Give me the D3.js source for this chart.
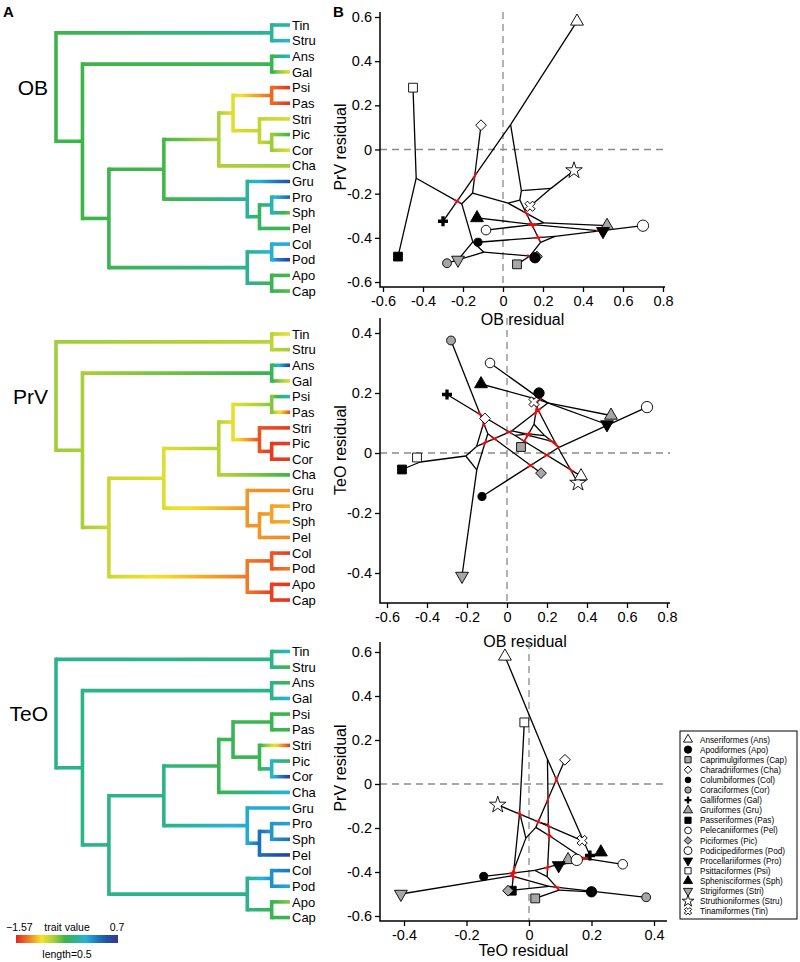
<!DOCTYPE html>
<html>
<head>
<meta charset="utf-8">
<script src="https://cdnjs.cloudflare.com/ajax/libs/d3/7.8.5/d3.min.js"></script>
<style>
body { margin: 0; background: #fff; }
svg { font-family: "Liberation Sans", Arial, sans-serif; }
</style>
</head>
<body>
<script>
//tree: tips in plotting order, top to bottom
var tips = ["Tin","Stru","Ans","Gal","Psi","Pas","Stri","Pic","Cor","Cha","Gru","Pro","Sph","Pel","Col","Pod","Apo","Cap"];
var tipParent = ["TS","TS","AG","AG","PP","PP","SPC","PC","PC","D","G","PS","PS","PSP","CP","CP","AC","AC"];
var nodes = ["root","A","B","C","D","E","TS","AG","PP","SPC","PC","G","PSP","PS","CPAC","CP","AC"];
var nodeParent = [null,"root","A","B","C","D","root","A","E","E","SPC","C","G","PSP","B","CPAC","CPAC"];
var nodeTime = [0,0.13,0.26,0.53,0.80,0.87,1.06,1.06,1.06,1.0,1.06,0.94,1.0,1.06,0.94,1.06,1.06];
var tipTime = 1.15;

//residuals at tips (tree order)
var obRes  = [0.135,0.355,0.37,-0.30,-0.45,-0.525,-0.225,0.17,-0.28,-0.11,0.52,0.50,-0.13,-0.085,-0.125,0.70,0.16,0.07];
var prvRes = [-0.257,-0.095,0.58,-0.325,0.28,-0.485,-0.50,-0.485,-0.515,0.11,-0.345,-0.37,-0.31,-0.365,-0.42,-0.345,-0.49,-0.52];
var teoRes = [0.17,-0.10,-0.077,0.195,-0.015,-0.055,-0.41,-0.067,0.375,0.115,0.125,0.095,0.23,0.30,-0.145,0.153,0.20,0.02];

//residuals at internal nodes (nodes order)
var obNode  = [0.108,0.092,0.084,0.025,-0.152,-0.206,0.24,0.038,-0.434,-0.151,-0.096,0.204,0.14,0.166,0.188,0.26,0.135];
var prvNode = [-0.185,-0.186,-0.229,-0.243,-0.197,-0.246,-0.176,0.113,-0.130,-0.418,-0.465,-0.332,-0.341,-0.341,-0.421,-0.393,-0.482];
var teoNode = [0.059,0.062,0.065,0.074,0.022,-0.010,0.036,0.059,-0.030,-0.056,0.064,0.167,0.193,0.176,0.058,0.019,0.096];

//trait values for the coloured trees
var obTip  = [-0.16,-0.03,-0.03,-0.95,-1.52,-1.52,-0.90,-0.48,-0.95,-0.70,0.47,0.36,-0.60,-0.48,0.02,0.59,-0.50,-0.55];
var obIn   = [-0.48,-0.48,-0.46,-0.50,-0.75,-0.93,-0.20,-0.45,-1.35,-0.82,-0.70,-0.21,-0.40,-0.15,-0.25,0.0,-0.45];
var prvTip = [-0.96,-0.71,0.59,-0.93,-0.03,-1.45,-1.50,-1.50,-1.50,-0.48,-1.25,-1.15,-1.15,-1.25,-1.50,-1.30,-1.52,-1.52];
var prvIn  = [-0.71,-0.73,-0.85,-0.92,-0.78,-0.95,-0.80,-0.45,-0.65,-1.42,-1.50,-1.22,-1.22,-1.18,-1.30,-1.40,-1.48];
var teoTip = [-0.03,-0.48,-0.48,-0.03,-0.48,-0.48,-1.50,-0.44,0.59,-0.03,0.02,0.05,0.29,0.59,0.25,0.02,-0.66,-0.48];
var teoIn  = [-0.25,-0.26,-0.27,-0.27,-0.44,-0.44,-0.28,-0.25,-0.46,-0.44,-0.10,0.02,0.29,0.10,-0.25,0.13,-0.44];

//legend
var legendCodes = ["Ans","Apo","Cap","Cha","Col","Cor","Gal","Gru","Pas","Pel","Pic","Pod","Pro","Psi","Sph","Stri","Stru","Tin"];
var legendNames = ["Anseriformes","Apodiformes","Caprimulgiformes","Charadriiformes","Columbiformes","Coraciformes","Galliformes","Gruiformes","Passeriformes","Pelecaniiformes","Piciformes","Podicipediformes","Procellariiformes","Psittaciformes","Sphenisciformes","Strigiformes","Struthioniformes","Tinamiformes"];

//ticks
var ticks06 = [-0.6,-0.4,-0.2,0,0.2,0.4,0.6];
var ticks08 = [-0.6,-0.4,-0.2,0,0.2,0.4,0.6,0.8];
var ticks04 = [-0.4,-0.2,0,0.2,0.4];

var traitMin = -1.57, traitMax = 0.7;
var palStops = [0,0.12,0.25,0.37,0.48,0.58,0.68,0.8,0.9,1];
var palCols = ["#e3241f","#ef7a26","#f5e32b","#a8cf3a","#3db54a","#2cb38c","#27b4d9","#1d77bf","#234ea6","#3a3790"];

//symbol styles
var symStyle = {
    Ans: ["tri","white",72], Apo: ["circle","black",85], Cap: ["square","#a6a6a6",78],
    Cha: ["diamond","white",58], Col: ["circle","black",52], Cor: ["circle","#a6a6a6",62],
    Gal: ["plus","black",55], Gru: ["tri","#a6a6a6",72], Pas: ["square","black",78],
    Pel: ["circle","white",72], Pic: ["diamond","#a6a6a6",58], Pod: ["circle","white",100],
    Pro: ["triDown","black",72], Psi: ["square","white",78], Sph: ["tri","black",72],
    Stri: ["triDown","#a6a6a6",72], Stru: ["star","white",85], Tin: ["xcross","white",65]
};

var svg = d3.select("body").append("svg").attr("width", 800).attr("height", 962);
var defs = svg.append("defs");

var pal = d3.scaleLinear()
    .domain(palStops.map(function(t) { return traitMin + t * (traitMax - traitMin); }))
    .range(palCols).clamp(true);

var tx = d3.scaleLinear().domain([0, tipTime]).range([56, 290]);
var gradId = 0;

function buildTree() {
    var parentOf = {}, kids = {};
    tips.forEach(function(t, i) { parentOf[t] = tipParent[i]; });
    nodes.forEach(function(n, i) { if (nodeParent[i]) parentOf[n] = nodeParent[i]; });
    Object.keys(parentOf).forEach(function(c) {
        (kids[parentOf[c]] = kids[parentOf[c]] || []).push(c);
    });
    return {parentOf: parentOf, kids: kids};
}
var T = buildTree();

function drawTree(top, tipVals, nodeVals, label) {
    var g = svg.append("g");
    var pos = {}, val = {};
    tips.forEach(function(t, i) { pos[t] = {x: tx(tipTime), y: top + i * 15.65}; val[t] = tipVals[i]; });
    nodes.forEach(function(n, i) { val[n] = nodeVals[i]; });
    function place(n) {
        if (pos[n]) return pos[n];
        var ys = T.kids[n].map(function(c) { return place(c).y; });
        pos[n] = {x: tx(nodeTime[nodes.indexOf(n)]), y: (d3.min(ys) + d3.max(ys)) / 2};
        return pos[n];
    }
    place("root");

    //horizontal branches with colour gradient parent -> child
    Object.keys(T.parentOf).forEach(function(c) {
        var p = T.parentOf[c];
        var id = "br" + (gradId++);
        var lg = defs.append("linearGradient").attr("id", id)
            .attr("gradientUnits", "userSpaceOnUse")
            .attr("x1", pos[p].x).attr("x2", pos[c].x).attr("y1", 0).attr("y2", 0);
        for (var k = 0; k <= 10; k++) {
            lg.append("stop").attr("offset", k / 10)
                .attr("stop-color", pal(val[p] + (val[c] - val[p]) * k / 10));
        }
        g.append("line")
            .attr("x1", pos[p].x).attr("x2", pos[c].x)
            .attr("y1", pos[c].y).attr("y2", pos[c].y)
            .attr("stroke", "url(#" + id + ")").attr("stroke-width", 3.6);
    });

    //vertical connectors in node colour
    nodes.forEach(function(n) {
        var ys = T.kids[n].map(function(c) { return pos[c].y; });
        g.append("line")
            .attr("x1", pos[n].x).attr("x2", pos[n].x)
            .attr("y1", d3.min(ys) - 1.8).attr("y2", d3.max(ys) + 1.8)
            .attr("stroke", pal(val[n])).attr("stroke-width", 3.6);
    });

    tips.forEach(function(t) {
        g.append("text").attr("x", pos[t].x + 2).attr("y", pos[t].y + 4.6)
            .attr("font-size", 13).text(t);
    });

    g.append("text").attr("x", 48).attr("y", pos.root.y + 7.5)
        .attr("text-anchor", "end").attr("font-size", 21).text(label);
}

drawTree(25, obTip, obIn, "OB");
drawTree(334, prvTip, prvIn, "PrV");
drawTree(651.5, teoTip, teoIn, "TeO");

//colour bar
var cb = defs.append("linearGradient").attr("id", "cbar");
palStops.forEach(function(s, i) { cb.append("stop").attr("offset", s).attr("stop-color", palCols[i]); });
svg.append("rect").attr("x", 16).attr("y", 935).attr("width", 102).attr("height", 8).attr("fill", "url(#cbar)");
svg.append("text").attr("x", 6).attr("y", 931).attr("font-size", 10.5).text("\u22121.57");
svg.append("text").attr("x", 67).attr("y", 931).attr("font-size", 10.5).attr("text-anchor", "middle").text("trait value");
svg.append("text").attr("x", 117).attr("y", 931).attr("font-size", 10.5).attr("text-anchor", "middle").text("0.7");
svg.append("text").attr("x", 67).attr("y", 958).attr("font-size", 10.5).attr("text-anchor", "middle").text("length=0.5");

svg.append("text").attr("x", 3).attr("y", 17).attr("font-size", 15).attr("font-weight", "bold").text("A");
svg.append("text").attr("x", 333).attr("y", 17).attr("font-size", 15).attr("font-weight", "bold").text("B");

//symbols
function symPath(code, scale) {
    var s = symStyle[code], type = d3.symbolCircle;
    if (s[0] === "tri" || s[0] === "triDown") type = d3.symbolTriangle;
    if (s[0] === "square" || s[0] === "diamond") type = d3.symbolSquare;
    if (s[0] === "plus" || s[0] === "xcross") type = d3.symbolCross;
    if (s[0] === "star") type = d3.symbolStar;
    return d3.symbol().type(type).size(s[2] * scale)();
}
function symRot(code) {
    var s = symStyle[code][0];
    if (s === "triDown") return 180;
    if (s === "diamond" || s === "xcross") return 45;
    return 0;
}
function drawSymbol(g, code, x, y, scale) {
    var s = symStyle[code];
    g.append("path").attr("d", symPath(code, scale))
        .attr("transform", "translate(" + x + "," + y + ") rotate(" + symRot(code) + ")")
        .attr("fill", s[1])
        .attr("stroke", s[0] === "plus" ? "none" : "black")
        .attr("stroke-width", 0.9);
}

function fmt(d) { return d === 0 ? "0" : d.toFixed(1); }

function segCross(a, b, c, d) {
    var rx = b[0] - a[0], ry = b[1] - a[1], sx = d[0] - c[0], sy = d[1] - c[1];
    var den = rx * sy - ry * sx;
    if (Math.abs(den) < 1e-9) return null;
    var t = ((c[0] - a[0]) * sy - (c[1] - a[1]) * sx) / den;
    var u = ((c[0] - a[0]) * ry - (c[1] - a[1]) * rx) / den;
    if (t > 0.02 && t < 0.98 && u > 0.02 && u < 0.98) return [t, u];
    return null;
}

function drawScatter(p) {
    var g = svg.append("g");
    var x = d3.scaleLinear().domain(p.xDomain).range(p.xRange);
    var y = d3.scaleLinear().domain(p.yDomain).range(p.yRange);
    var f = p.frame;

    //zero lines
    g.append("line").attr("x1", f.l).attr("x2", f.r).attr("y1", y(0)).attr("y2", y(0))
        .attr("stroke", "#8a8a8a").attr("stroke-width", 1.3).attr("stroke-dasharray", "7,5");
    g.append("line").attr("x1", x(0)).attr("x2", x(0)).attr("y1", f.t).attr("y2", f.b)
        .attr("stroke", "#8a8a8a").attr("stroke-width", 1.3).attr("stroke-dasharray", "7,5");

    //axes
    var ya = g.append("g").attr("transform", "translate(" + f.l + ",0)")
        .call(d3.axisLeft(y).tickValues(p.yTicks).tickSize(5).tickPadding(3).tickFormat(fmt));
    var xa = g.append("g").attr("transform", "translate(0," + f.b + ")")
        .call(d3.axisBottom(x).tickValues(p.xTicks).tickSize(5).tickPadding(4).tickFormat(fmt));
    [ya, xa].forEach(function(a) {
        a.select(".domain").remove();
        a.attr("font-family", null).attr("font-size", 14.5);
        a.selectAll("line").attr("stroke-width", 1.3);
        a.selectAll("text").attr("fill", "black");
    });
    g.append("path").attr("d", "M" + f.l + "," + f.t + "V" + f.b + "H" + f.r)
        .attr("fill", "none").attr("stroke", "black").attr("stroke-width", 1.5);

    g.append("text").attr("x", (f.l + f.r) / 2).attr("y", p.xTitleY)
        .attr("text-anchor", "middle").attr("font-size", 16).text(p.xTitle);
    g.append("text").attr("transform", "translate(346," + p.yTitleY + ") rotate(-90)")
        .attr("text-anchor", "middle").attr("font-size", 16).text(p.yTitle);

    //tree edges in trait space
    var pt = {};
    tips.forEach(function(t, i) { pt[t] = [x(p.xs[i]), y(p.ys[i])]; });
    nodes.forEach(function(n, i) { pt[n] = [x(p.xn[i]), y(p.yn[i])]; });
    var edges = Object.keys(T.parentOf).map(function(c) { return [pt[T.parentOf[c]], pt[c]]; });
    edges.forEach(function(e) {
        g.append("line").attr("x1", e[0][0]).attr("y1", e[0][1]).attr("x2", e[1][0]).attr("y2", e[1][1])
            .attr("stroke", "black").attr("stroke-width", 1.3);
    });

    //red marks where branches cross
    function mark(e, t) {
        var dx = e[1][0] - e[0][0], dy = e[1][1] - e[0][1], L = Math.sqrt(dx * dx + dy * dy);
        var cx = e[0][0] + t * dx, cy = e[0][1] + t * dy, h = 3.5 / L;
        g.append("line").attr("x1", cx - dx * h).attr("y1", cy - dy * h)
            .attr("x2", cx + dx * h).attr("y2", cy + dy * h)
            .attr("stroke", "#e01010").attr("stroke-width", 1.6);
    }
    for (var i = 0; i < edges.length; i++) {
        for (var j = i + 1; j < edges.length; j++) {
            var r = segCross(edges[i][0], edges[i][1], edges[j][0], edges[j][1]);
            if (r) { mark(edges[i], r[0]); mark(edges[j], r[1]); }
        }
    }

    tips.forEach(function(t) { drawSymbol(g, t, pt[t][0], pt[t][1], 1); });
}

drawScatter({xs: obRes, ys: prvRes, xn: obNode, yn: prvNode,
    xDomain: [-0.6, 0.8], xRange: [383, 663], yDomain: [-0.6, 0.6], yRange: [282, 17],
    frame: {l: 380, r: 665, t: 12, b: 287}, xTicks: ticks08, yTicks: ticks06,
    xTitle: "OB residual", yTitle: "PrV residual", xTitleY: 325, yTitleY: 147});

drawScatter({xs: obRes, ys: teoRes, xn: obNode, yn: teoNode,
    xDomain: [-0.6, 0.8], xRange: [387, 667], yDomain: [-0.4, 0.4], yRange: [573, 333],
    frame: {l: 380, r: 670, t: 318, b: 603}, xTicks: ticks08, yTicks: ticks04,
    xTitle: "OB residual", yTitle: "TeO residual", xTitleY: 647, yTitleY: 450});

drawScatter({xs: teoRes, ys: prvRes, xn: teoNode, yn: prvNode,
    xDomain: [-0.4, 0.4], xRange: [404, 654], yDomain: [-0.6, 0.6], yRange: [916, 652],
    frame: {l: 380, r: 667, t: 642, b: 921}, xTicks: ticks04, yTicks: ticks06,
    xTitle: "TeO residual", yTitle: "PrV residual", xTitleY: 956, yTitleY: 768});

//legend box
var lg = svg.append("g");
lg.append("rect").attr("x", 680).attr("y", 731).attr("width", 117).attr("height", 188)
    .attr("fill", "white").attr("stroke", "black").attr("stroke-width", 1);
legendCodes.forEach(function(c, i) {
    var yy = 739.5 + i * 10.1;
    drawSymbol(lg, c, 688, yy, 0.5);
    lg.append("text").attr("x", 700).attr("y", yy + 3).attr("font-size", 8.2)
        .text(legendNames[i] + " (" + c + ")");
});
</script>
</body>
</html>
